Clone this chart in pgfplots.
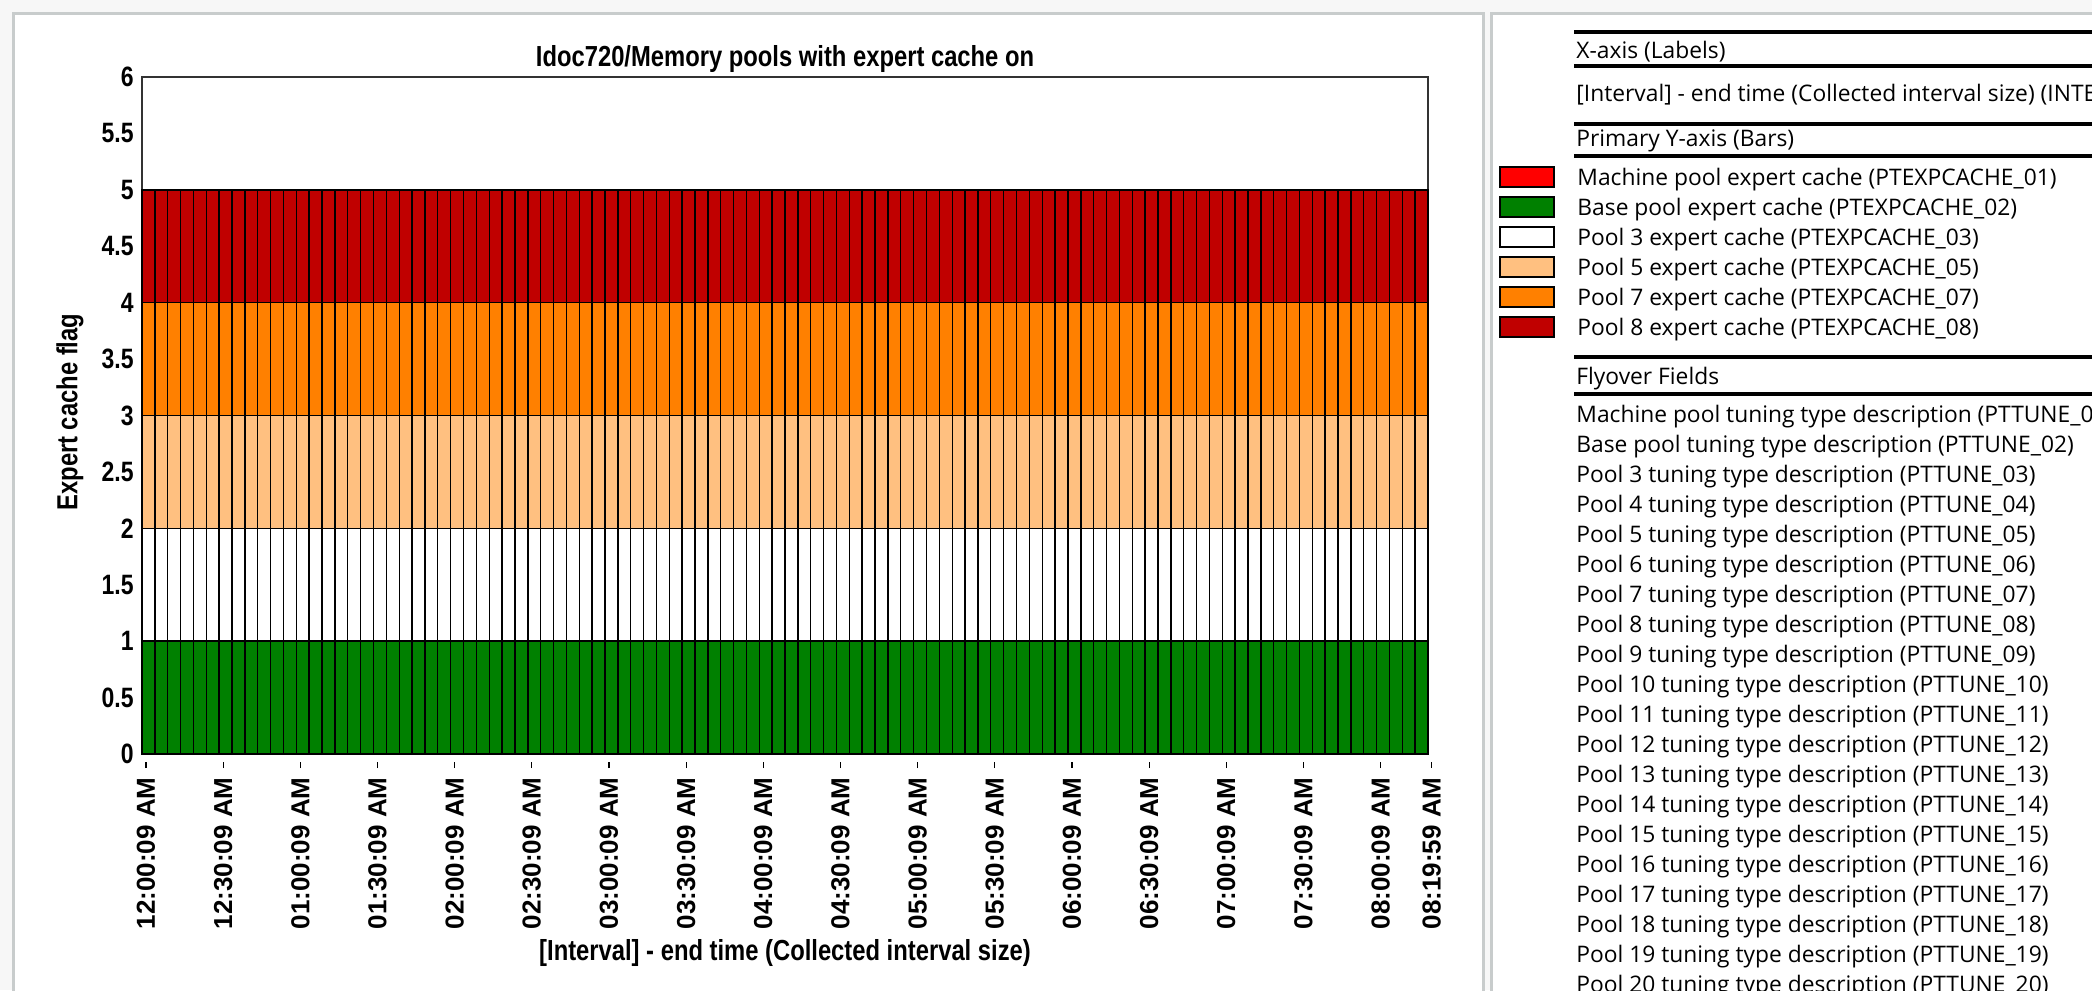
\documentclass[border=0pt]{standalone}
\usepackage{fontspec}
\usepackage{pgfplots}
\usepackage{pgfplotstable}
\pgfplotsset{compat=1.18}
\setmainfont{Liberation Sans}
\newfontfamily\narrowfont[FakeStretch=0.82]{Liberation Sans}
\newfontfamily\panelfont{Open Sans}

\definecolor{poolred}{RGB}{255,0,0}
\definecolor{poolgreen}{RGB}{0,128,0}
\definecolor{poolpeach}{RGB}{255,192,128}
\definecolor{poolorange}{RGB}{255,128,0}
\definecolor{pooldark}{RGB}{192,0,0}
\definecolor{frame}{RGB}{200,204,204}

% expert cache flags, one row per 5 minute interval (12:00:09 AM .. 08:19:59 AM)
\pgfplotstableread[row sep=\\]{
c01 c02 c03 c05 c07 c08\\
0 1 1 1 1 1\\ 0 1 1 1 1 1\\ 0 1 1 1 1 1\\ 0 1 1 1 1 1\\ 0 1 1 1 1 1\\
0 1 1 1 1 1\\ 0 1 1 1 1 1\\ 0 1 1 1 1 1\\ 0 1 1 1 1 1\\ 0 1 1 1 1 1\\
0 1 1 1 1 1\\ 0 1 1 1 1 1\\ 0 1 1 1 1 1\\ 0 1 1 1 1 1\\ 0 1 1 1 1 1\\
0 1 1 1 1 1\\ 0 1 1 1 1 1\\ 0 1 1 1 1 1\\ 0 1 1 1 1 1\\ 0 1 1 1 1 1\\
0 1 1 1 1 1\\ 0 1 1 1 1 1\\ 0 1 1 1 1 1\\ 0 1 1 1 1 1\\ 0 1 1 1 1 1\\
0 1 1 1 1 1\\ 0 1 1 1 1 1\\ 0 1 1 1 1 1\\ 0 1 1 1 1 1\\ 0 1 1 1 1 1\\
0 1 1 1 1 1\\ 0 1 1 1 1 1\\ 0 1 1 1 1 1\\ 0 1 1 1 1 1\\ 0 1 1 1 1 1\\
0 1 1 1 1 1\\ 0 1 1 1 1 1\\ 0 1 1 1 1 1\\ 0 1 1 1 1 1\\ 0 1 1 1 1 1\\
0 1 1 1 1 1\\ 0 1 1 1 1 1\\ 0 1 1 1 1 1\\ 0 1 1 1 1 1\\ 0 1 1 1 1 1\\
0 1 1 1 1 1\\ 0 1 1 1 1 1\\ 0 1 1 1 1 1\\ 0 1 1 1 1 1\\ 0 1 1 1 1 1\\
0 1 1 1 1 1\\ 0 1 1 1 1 1\\ 0 1 1 1 1 1\\ 0 1 1 1 1 1\\ 0 1 1 1 1 1\\
0 1 1 1 1 1\\ 0 1 1 1 1 1\\ 0 1 1 1 1 1\\ 0 1 1 1 1 1\\ 0 1 1 1 1 1\\
0 1 1 1 1 1\\ 0 1 1 1 1 1\\ 0 1 1 1 1 1\\ 0 1 1 1 1 1\\ 0 1 1 1 1 1\\
0 1 1 1 1 1\\ 0 1 1 1 1 1\\ 0 1 1 1 1 1\\ 0 1 1 1 1 1\\ 0 1 1 1 1 1\\
0 1 1 1 1 1\\ 0 1 1 1 1 1\\ 0 1 1 1 1 1\\ 0 1 1 1 1 1\\ 0 1 1 1 1 1\\
0 1 1 1 1 1\\ 0 1 1 1 1 1\\ 0 1 1 1 1 1\\ 0 1 1 1 1 1\\ 0 1 1 1 1 1\\
0 1 1 1 1 1\\ 0 1 1 1 1 1\\ 0 1 1 1 1 1\\ 0 1 1 1 1 1\\ 0 1 1 1 1 1\\
0 1 1 1 1 1\\ 0 1 1 1 1 1\\ 0 1 1 1 1 1\\ 0 1 1 1 1 1\\ 0 1 1 1 1 1\\
0 1 1 1 1 1\\ 0 1 1 1 1 1\\ 0 1 1 1 1 1\\ 0 1 1 1 1 1\\ 0 1 1 1 1 1\\
0 1 1 1 1 1\\ 0 1 1 1 1 1\\ 0 1 1 1 1 1\\ 0 1 1 1 1 1\\ 0 1 1 1 1 1\\
}\pools

\newcommand\pf{\panelfont\fontsize{11.4bp}{14bp}\selectfont}
\newcommand\tickfont{\bfseries\fontsize{13bp}{15bp}\selectfont}

\begin{document}
% 1 unit = 1 pixel of the 2092x990 reference, origin top left
\begin{tikzpicture}[x=0.5bp,y=-0.5bp]
\path[use as bounding box] (0,0) rectangle (2092,990);
\coordinate (axpos) at (142,754);
\begin{scope}
\clip (0,0) rectangle (2092,990);
\fill[gray!6] (0,0) rectangle (2092,990);
\fill[white] (13,13) rectangle (1483,1000);
\fill[white] (1491,13) rectangle (2100,1000);
\draw[frame, line width=1.5bp] (13,1000) -- (13,13) -- (1483,13) -- (1483,1000);
\draw[frame, line width=1.5bp] (1491,1000) -- (1491,13) -- (2100,13);

% side panel
\foreach \yy in {32,66,124,156,357,394}
  \draw[line width=2bp] (1574,\yy) -- (2100,\yy);
\node[anchor=base west, inner sep=0pt, font=\pf] at (1576,58) {X-axis (Labels)};
\node[anchor=base west, inner sep=0pt, font=\pf] at (1576,101) {[Interval] - end time (Collected interval size) (INTERVAL)};
\node[anchor=base west, inner sep=0pt, font=\pf] at (1576,146) {Primary Y-axis (Bars)};
\node[anchor=base west, inner sep=0pt, font=\pf] at (1576,384) {Flyover Fields};
\node[anchor=base west, inner sep=0pt, font=\pf] at (1576,422) {Machine pool tuning type description (PTTUNE\_01)};
\node[anchor=base west, inner sep=0pt, font=\pf] at (1576,452) {Base pool tuning type description (PTTUNE\_02)};
\foreach \n/\k [count=\i from 0] in {3/03,4/04,5/05,6/06,7/07,8/08,9/09,10/10,11/11,12/12,13/13,14/14,15/15,16/16,17/17,18/18,19/19,20/20}
  \node[anchor=base west, inner sep=0pt, font=\pf] at (1576,482+30*\i)
    {Pool \n{} tuning type description (PTTUNE\_\k)};
\end{scope}

\begin{axis}[
  at={(axpos)}, anchor=south west,
  width=643bp, height=338.5bp, scale only axis,
  xmin=0, xmax=100, ymin=0, ymax=6,
  ybar stacked, bar width=1,
  clip=false,
  axis line style={line width=1bp, black!80},
  ytick={0,0.5,...,6},
  ytick style={draw=none},
  yticklabel style={font=\narrowfont\bfseries\fontsize{14bp}{16bp}\selectfont, inner sep=0pt, xshift=-4bp},
  /pgf/number format/assume math mode=true,
  xtick={0.31,6.31,12.31,18.31,24.31,30.31,36.31,42.31,48.31,54.31,60.31,66.31,72.31,78.31,84.31,90.31,96.31},
  xticklabels={12:00:09 AM,12:30:09 AM,01:00:09 AM,01:30:09 AM,02:00:09 AM,02:30:09 AM,03:00:09 AM,03:30:09 AM,04:00:09 AM,04:30:09 AM,05:00:09 AM,05:30:09 AM,06:00:09 AM,06:30:09 AM,07:00:09 AM,07:30:09 AM,08:00:09 AM},
  major tick length=3bp,
  xtick pos=lower,
  xtick style={yshift=-7bp, line width=0.6bp, black},
  xticklabel style={yshift=-11.5bp, rotate=90, anchor=east, inner sep=0pt, font=\tickfont},
  title={Idoc720/Memory pools with expert cache on},
  title style={at={(0.5,1)}, anchor=base, yshift=-0.5bp,
    font=\narrowfont\bfseries\fontsize{14.5bp}{17bp}\selectfont},
  xlabel={[Interval] - end time (Collected interval size)},
  xlabel style={at={(0.5,0)}, anchor=base, yshift=-103bp,
    font=\narrowfont\bfseries\fontsize{14.5bp}{17bp}\selectfont},
  ylabel={Expert cache flag},
  ylabel style={at={(-0.056,0.505)}, anchor=center, rotate=0,
    font=\narrowfont\bfseries\fontsize{14.5bp}{17bp}\selectfont},
  legend style={at={(1.0552,0.8715)}, anchor=north west, draw=none, fill=none,
    inner sep=0pt, row sep=0pt, column sep=11bp, font=\pf,
    nodes={inner sep=0pt, text height=10.5bp, text depth=4.5bp, anchor=base west}},
  legend cell align=left,
  legend image code/.code={\draw[#1, draw=black, line width=1bp] (0bp,-1bp) rectangle (27bp,9bp);},
  every axis plot/.append style={draw=black, line width=0.7bp},
]
\addplot[fill=poolred] table[x expr=\coordindex+0.5, y=c01] {\pools};
\addlegendentry{Machine pool expert cache (PTEXPCACHE\_01)}
\addplot[fill=poolgreen] table[x expr=\coordindex+0.5, y=c02] {\pools};
\addlegendentry{Base pool expert cache (PTEXPCACHE\_02)}
\addplot[fill=white] table[x expr=\coordindex+0.5, y=c03] {\pools};
\addlegendentry{Pool 3 expert cache (PTEXPCACHE\_03)}
\addplot[fill=poolpeach] table[x expr=\coordindex+0.5, y=c05] {\pools};
\addlegendentry{Pool 5 expert cache (PTEXPCACHE\_05)}
\addplot[fill=poolorange] table[x expr=\coordindex+0.5, y=c07] {\pools};
\addlegendentry{Pool 7 expert cache (PTEXPCACHE\_07)}
\addplot[fill=pooldark] table[x expr=\coordindex+0.5, y=c08] {\pools};
\addlegendentry{Pool 8 expert cache (PTEXPCACHE\_08)}
% last interval end (08:19:59 AM) lies just past the last bar
\draw[line width=0.6bp] ([yshift=-4bp]axis cs:100.28,0) -- ([yshift=-7bp]axis cs:100.28,0);
\node[rotate=90, anchor=east, inner sep=0pt, font=\tickfont]
  at ([yshift=-11.5bp]axis cs:100.28,0) {08:19:59 AM};
\end{axis}
\end{tikzpicture}
\end{document}
